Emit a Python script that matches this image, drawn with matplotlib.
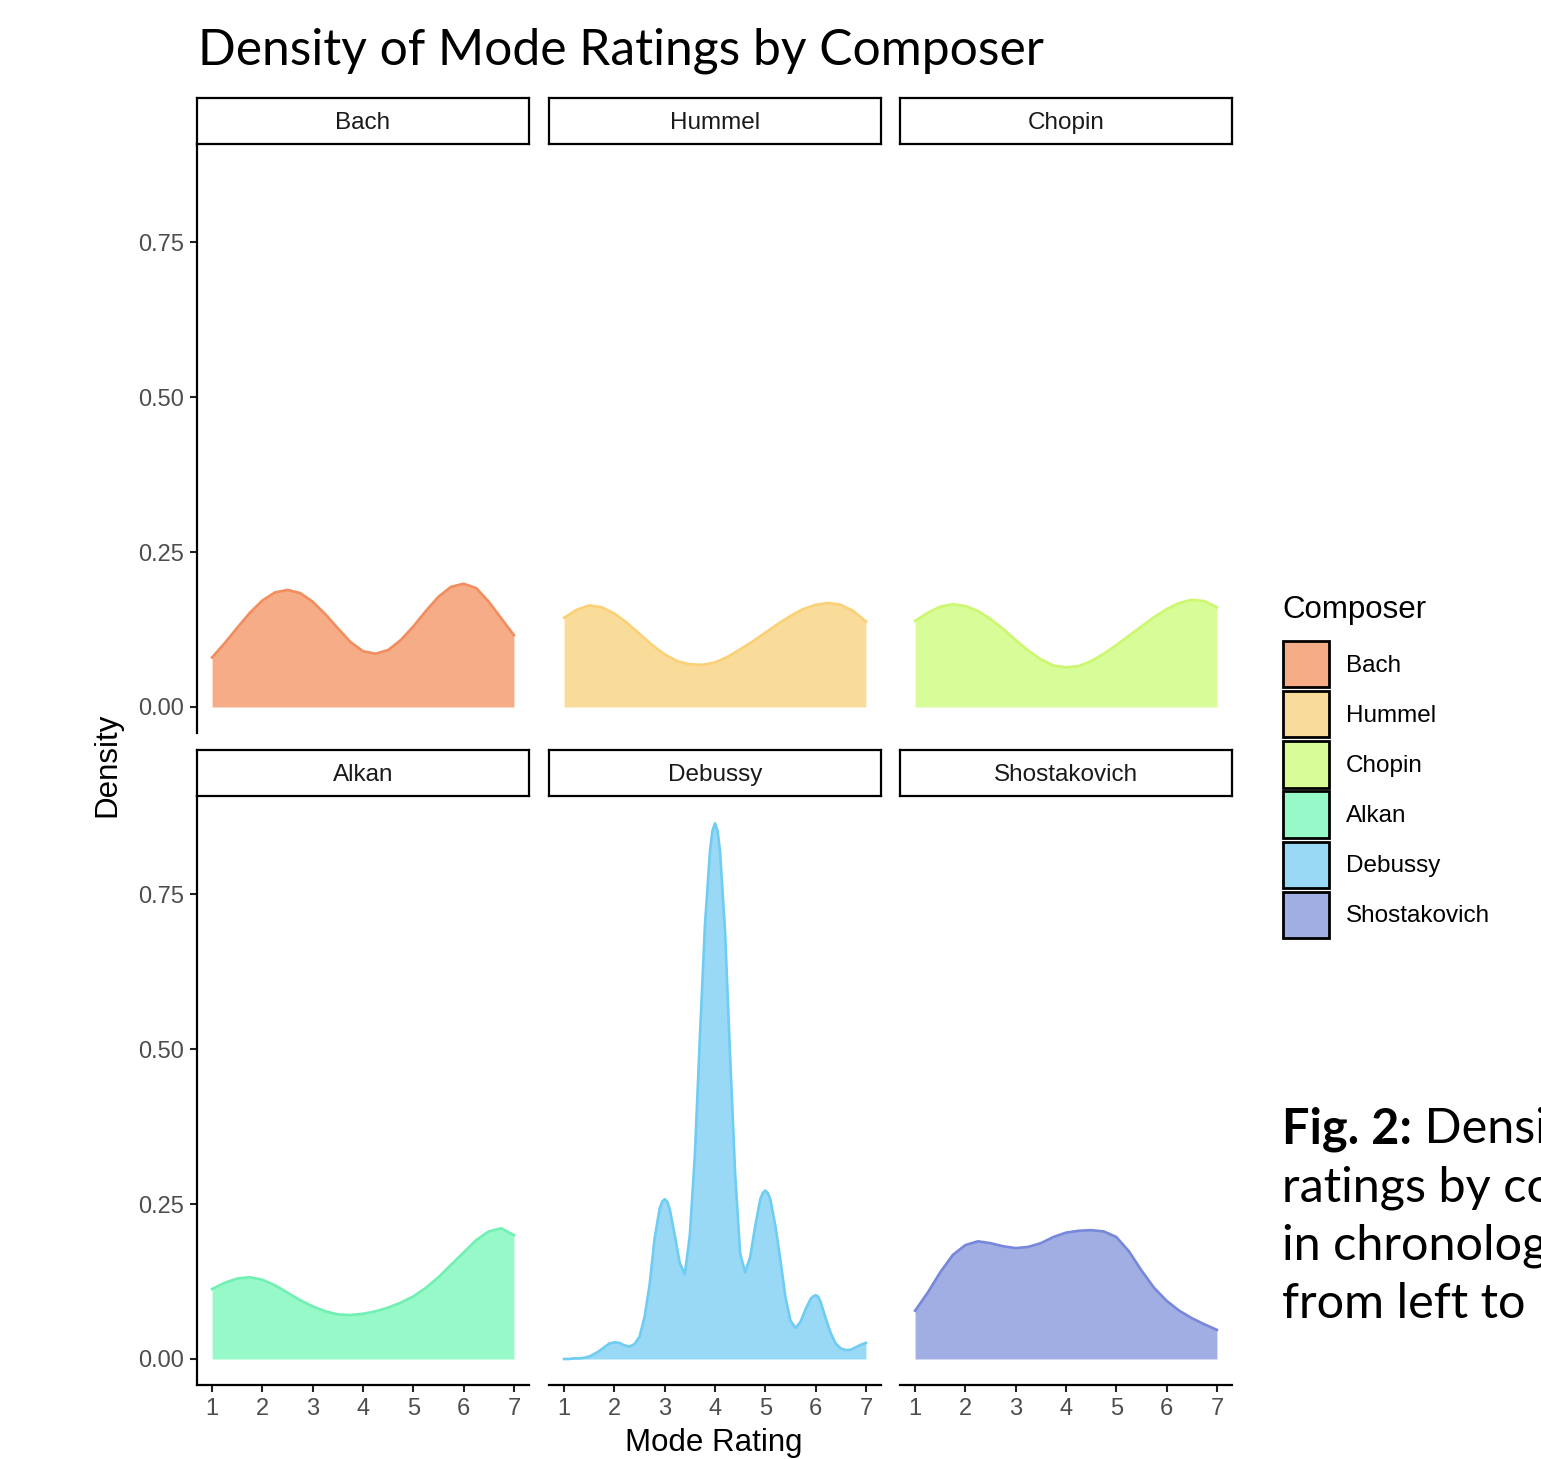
import matplotlib
matplotlib.use("Agg")
import matplotlib.pyplot as plt
from matplotlib.patches import Patch

plt.rcParams["font.family"] = ["Liberation Sans", "DejaVu Sans"]

# ---- data (density estimates) ----
composers = ["Bach", "Hummel", "Chopin", "Alkan", "Debussy", "Shostakovich"]

rating_grid = [1.0, 1.25, 1.5, 1.75, 2.0, 2.25, 2.5, 2.75, 3.0, 3.25, 3.5, 3.75,
               4.0, 4.25, 4.5, 4.75, 5.0, 5.25, 5.5, 5.75, 6.0, 6.25, 6.5, 6.75, 7.0]

bach = [0.080, 0.103, 0.128, 0.152, 0.172, 0.185, 0.189, 0.184, 0.170, 0.150, 0.127, 0.105,
        0.090, 0.086, 0.092, 0.108, 0.130, 0.155, 0.178, 0.194, 0.199, 0.192, 0.170, 0.143, 0.116]
hummel = [0.144, 0.157, 0.164, 0.161, 0.151, 0.136, 0.118, 0.100, 0.085, 0.074, 0.069, 0.068,
          0.072, 0.081, 0.093, 0.106, 0.120, 0.134, 0.147, 0.158, 0.165, 0.168, 0.165, 0.155, 0.138]
chopin = [0.139, 0.152, 0.162, 0.166, 0.163, 0.155, 0.142, 0.126, 0.108, 0.091, 0.077, 0.067,
          0.064, 0.066, 0.074, 0.086, 0.100, 0.115, 0.130, 0.145, 0.158, 0.168, 0.173, 0.171, 0.161]
alkan = [0.113, 0.123, 0.130, 0.132, 0.128, 0.119, 0.107, 0.095, 0.085, 0.077, 0.072, 0.071,
         0.073, 0.077, 0.083, 0.091, 0.101, 0.115, 0.132, 0.152, 0.172, 0.192, 0.206, 0.211, 0.200]
shostakovich = [0.078, 0.107, 0.140, 0.168, 0.184, 0.190, 0.187, 0.182, 0.179, 0.181, 0.187, 0.197,
                0.204, 0.207, 0.208, 0.206, 0.197, 0.174, 0.143, 0.115, 0.094, 0.078, 0.066, 0.056, 0.047]

debussy_grid = [1.0, 1.1, 1.2, 1.3, 1.4, 1.5, 1.6, 1.7, 1.8, 1.9,
                2.0, 2.1, 2.2, 2.3, 2.4, 2.5, 2.6, 2.7, 2.8, 2.9, 2.95,
                3.0, 3.05, 3.1, 3.2, 3.3, 3.4, 3.5, 3.6, 3.7, 3.8, 3.9, 3.95,
                4.0, 4.05, 4.1, 4.2, 4.3, 4.4, 4.5, 4.6, 4.7, 4.8, 4.9, 4.95,
                5.0, 5.05, 5.1, 5.2, 5.3, 5.4, 5.5, 5.6, 5.7, 5.8, 5.9, 5.95,
                6.0, 6.05, 6.1, 6.2, 6.3, 6.4, 6.5, 6.6, 6.7, 6.8, 6.9, 7.0]
debussy = [0.000, 0.000, 0.001, 0.001, 0.002, 0.004, 0.008, 0.013, 0.019, 0.025,
           0.027, 0.026, 0.022, 0.020, 0.024, 0.036, 0.068, 0.120, 0.195, 0.243, 0.254,
           0.258, 0.254, 0.242, 0.200, 0.155, 0.137, 0.200, 0.330, 0.520, 0.700, 0.820, 0.853,
           0.865, 0.853, 0.820, 0.690, 0.490, 0.300, 0.170, 0.140, 0.165, 0.215, 0.258, 0.268,
           0.272, 0.268, 0.258, 0.215, 0.160, 0.100, 0.062, 0.050, 0.060, 0.080, 0.097, 0.101,
           0.103, 0.101, 0.092, 0.066, 0.042, 0.025, 0.017, 0.0145, 0.015, 0.019, 0.023, 0.026]

x_values = [rating_grid, rating_grid, rating_grid, rating_grid, debussy_grid, rating_grid]
densities = [bach, hummel, chopin, alkan, debussy, shostakovich]

fill_colors = ["#F6AC87", "#FADC9A", "#D8FC98", "#97F8C8", "#9AD9F5", "#A0AEE3"]
line_colors = ["#F28D5E", "#FAD176", "#CCF870", "#72F0B3", "#6FCCF3", "#7788DA"]

y_ticks = [0.0, 0.25, 0.5, 0.75]
y_tick_labels = ["0.00", "0.25", "0.50", "0.75"]
x_ticks = [1, 2, 3, 4, 5, 6, 7]

caption_bold = "Fig. 2:"
caption_lines = ["Densi", "ratings by co", "in chronolog", "from left to r"]

# ---- layout (pixel boxes) ----
W, H = 1541, 1459
fig = plt.figure(figsize=(W / 100, H / 100), dpi=100)


def box(x0, y0, x1, y1):
    return [x0 / W, 1 - y1 / H, (x1 - x0) / W, (y1 - y0) / H]


col_x = [(197, 529), (549, 881), (900, 1232)]
row_y = [(144, 733), (796, 1385)]
strip_y = [(98, 144), (750, 796)]

for i, name in enumerate(composers):
    r, c = divmod(i, 3)
    x0, x1 = col_x[c]

    ax = fig.add_axes(box(x0, row_y[r][0], x1, row_y[r][1]))
    ax.fill_between(x_values[i], densities[i], color=fill_colors[i], lw=0)
    ax.plot(x_values[i], densities[i], color=line_colors[i], lw=1.9, solid_joinstyle="round")
    ax.set_xlim(0.7, 7.3)
    ax.set_ylim(-0.042, 0.909)

    for side in ["top", "right"]:
        ax.spines[side].set_visible(False)
    ax.tick_params(length=4.8, width=1.5, color="#222222", labelcolor="#4D4D4D",
                   labelsize=17, pad=4.5)

    if c == 0:
        ax.spines["left"].set_linewidth(1.6)
        ax.set_yticks(y_ticks)
        ax.set_yticklabels(y_tick_labels)
    else:
        ax.spines["left"].set_visible(False)
        ax.set_yticks([])

    if r == 1:
        ax.spines["bottom"].set_linewidth(1.6)
        ax.set_xticks(x_ticks)
    else:
        ax.spines["bottom"].set_visible(False)
        ax.set_xticks([])

    # facet strip
    sax = fig.add_axes(box(x0, strip_y[r][0], x1, strip_y[r][1]))
    sax.set_xticks([])
    sax.set_yticks([])
    for sp in sax.spines.values():
        sp.set_linewidth(1.6)
    sax.text(0.5, 0.46, name, ha="center", va="center", fontsize=17.5, color="#1A1A1A",
             transform=sax.transAxes)

# axis titles
fig.text(107 / W, 1 - 765 / H, "Density", rotation=90, ha="center", va="center", fontsize=22.5)
fig.text(714 / W, 1 - 1443 / H, "Mode Rating", ha="center", va="center", fontsize=22.5)

# main title
fig.text(198 / W, 1 - 64 / H, "Density of Mode Ratings by Composer", ha="left", va="baseline",
         fontsize=35.8, family=["Lato", "DejaVu Sans"])

# legend
fig.text(1282 / W, 1 - 610 / H, "Composer", ha="left", va="center", fontsize=22.5)
handles = [Patch(facecolor=fc, edgecolor="black", linewidth=2.0) for fc in fill_colors]
fig.legend(handles, composers, loc="upper left", bbox_to_anchor=(1283 / W, 1 - 641 / H),
           frameon=False, fontsize=17.5, handlelength=1.9, handleheight=2.55,
           handletextpad=0.7, labelspacing=0.16, borderpad=0, borderaxespad=0)

# caption on the right (cut off by the figure edge, as in the source)
cax = fig.add_axes(box(1270, 1060, 1541, 1459))
cax.axis("off")
cap_baselines = [1143, 1201, 1260, 1318]
cap_font = dict(fontsize=35, family=["Lato", "DejaVu Sans"], ha="left", va="baseline",
                transform=fig.transFigure, clip_on=True)
bold = cax.text(1282 / W, 1 - cap_baselines[0] / H, caption_bold, fontweight="bold", **cap_font)
first = cax.text(0, 0, " " + caption_lines[0], **cap_font)
for line, yb in zip(caption_lines[1:], cap_baselines[1:]):
    cax.text(1282 / W, 1 - yb / H, line, **cap_font)

fig.canvas.draw()
bb = bold.get_window_extent()
first.set_position((bb.x1 / fig.bbox.width, 1 - cap_baselines[0] / H))

fig.savefig("out.png", dpi=100)
